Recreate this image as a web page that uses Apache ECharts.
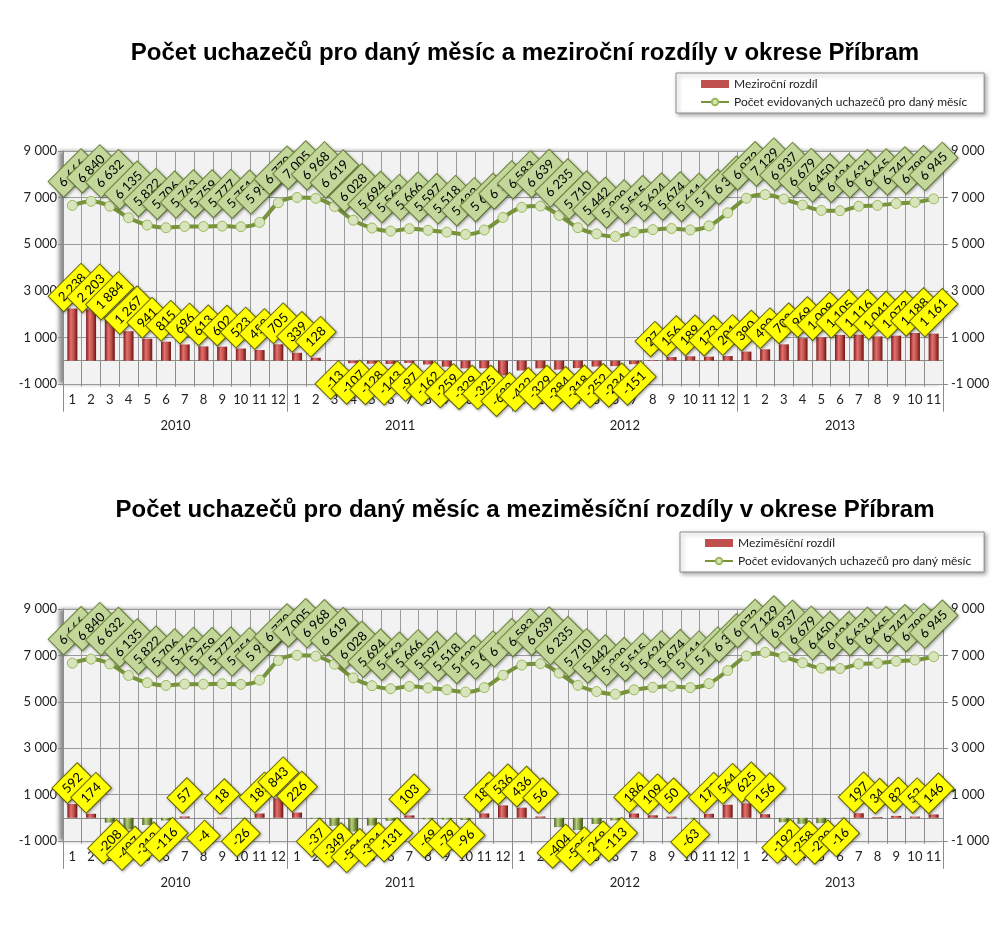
<!DOCTYPE html>
<html><head><meta charset="utf-8">
<script src="https://cdn.jsdelivr.net/npm/echarts@6/dist/echarts.min.js"></script>
<style>html,body{margin:0;padding:0;background:#fff}#c{width:1006px;height:930px}</style>
</head><body><div id="c"></div>
<script>
// ---- data ----
const monthLabels = ['1','2','3','4','5','6','7','8','9','10','11','12',
  '1','2','3','4','5','6','7','8','9','10','11','12',
  '1','2','3','4','5','6','7','8','9','10','11','12',
  '1','2','3','4','5','6','7','8','9','10','11'];
const years = ['2010','2011','2012','2013'];
const yearLengths = [12, 12, 12, 11];
const counts = [6666, 6840, 6632, 6135, 5822, 5706, 5763, 5759, 5777, 5751, 5936, 6779,
  7005, 6968, 6619, 6028, 5694, 5563, 5666, 5597, 5518, 5422, 5611, 6147,
  6583, 6639, 6235, 5710, 5442, 5329, 5515, 5624, 5674, 5611, 5784, 6348,
  6973, 7129, 6937, 6679, 6450, 6434, 6631, 6665, 6747, 6799, 6945];
const yoyDiff = [2238, 2203, 1884, 1267, 941, 815, 696, 613, 602, 523, 458, 705,
  339, 128, -13, -107, -128, -143, -97, -162, -259, -329, -325, -632,
  -422, -329, -384, -318, -252, -234, -151, 27, 156, 189, 173, 201,
  390, 490, 702, 969, 1008, 1105, 1116, 1041, 1073, 1188, 1161];
const momDiff = [592, 174, -208, -497, -313, -116, 57, -4, 18, -26, 185, 843,
  226, -37, -349, -591, -334, -131, 103, -69, -79, -96, 189, 536,
  436, 56, -404, -525, -268, -113, 186, 109, 50, -63, 173, 564,
  625, 156, -192, -258, -229, -16, 197, 34, 82, 52, 146];
const yMin = -1000, yMax = 9000, yStep = 2000;
const titles = ['Počet uchazečů pro daný měsíc a meziroční rozdíly v okrese Příbram',
  'Počet uchazečů pro daný měsíc a meziměsíční rozdíly v okrese Příbram'];
const barNames = ['Meziroční rozdíl', 'Meziměsíční rozdíl'];
const lineName = 'Počet evidovaných uchazečů pro daný měsíc';

// ---- helpers ----
function fmt(v) {
  const s = String(Math.abs(v)).replace(/\B(?=(\d{3})+(?!\d))/g, ' ');
  return (v < 0 ? '-' : '') + s;
}
const yearOfMonth = [];
const yearStarts = [];
const yearLabelIdx = {};
let acc = 0;
years.forEach((y, k) => {
  const n = yearLengths[k];
  yearStarts.push(acc);
  for (let i = 0; i < n; i++) yearOfMonth.push(y);
  if (n % 2 === 0) yearLabelIdx[acc + n / 2 - 1] = 'shift';
  else yearLabelIdx[acc + (n - 1) / 2] = 'plain';
  acc += n;
});

const FONT = 'Lato';
const gridLine = '#9a9a9a';
const axisCol = '#8c8c8c';

function grad(c0, c1, c2, c3) {
  return new echarts.graphic.LinearGradient(0, 0, 1, 0, [
    {offset: 0, color: c0}, {offset: 0.35, color: c1}, {offset: 0.65, color: c2}, {offset: 1, color: c3}]);
}
const redG = grad('#7a1a18', '#e4716d', '#c0504d', '#6a1411');
const greenG = grad('#4a5d23', '#b8d080', '#7d9a40', '#3b4a1b');

const tops = [151, 609];
const heights = [233, 232];

const option = {
  animation: false,
  title: titles.map((t, g) => ({
    text: t, left: 520, textAlign: 'center', top: g === 0 ? 36 : 493,
    textStyle: {fontFamily: 'Liberation Sans', fontWeight: 'bold', fontSize: 24, color: '#000'}
  })),
  legend: [0, 1].map(g => ({
    data: [{name: barNames[g], icon: 'rect', itemStyle: {color: '#c0504d'}}, {name: lineName}],
    orient: 'vertical', left: g === 0 ? 676 : 680, top: g === 0 ? 73 : 532,
    itemWidth: 28, itemHeight: 8, itemGap: 6, padding: g === 0 ? [5, 17, 5, 24] : [5, 13, 5, 24],
    backgroundColor: '#fff', borderColor: '#8c8c8c', borderWidth: 1,
    shadowColor: 'rgba(0,0,0,0.35)', shadowBlur: 4, shadowOffsetX: 2, shadowOffsetY: 2,
    textStyle: {fontSize: 12, fontFamily: FONT, color: '#222'}, selectedMode: false
  })),
  grid: [0, 1].map(g => ({
    left: 63, right: 63, top: tops[g], height: heights[g], show: true,
    backgroundColor: '#f2f2f2', borderWidth: 0,
    shadowColor: 'rgba(0,0,0,0.45)', shadowBlur: 4, shadowOffsetX: -4, shadowOffsetY: 0
  })),
  xAxis: [],
  yAxis: [],
  series: []
};

[0, 1].forEach(g => {
  option.xAxis.push({
    type: 'category', gridIndex: g, data: monthLabels, position: 'bottom', boundaryGap: true,
    axisLine: {show: true, lineStyle: {color: axisCol}},
    axisTick: {show: true, interval: 0, length: 26, lineStyle: {color: axisCol}},
    axisLabel: {interval: 0, margin: 9, fontSize: 13, color: '#222', fontFamily: FONT},
    splitLine: {show: true, interval: 0, lineStyle: {color: gridLine}}
  });
  option.xAxis.push({
    type: 'category', gridIndex: g, data: yearOfMonth, position: 'bottom', boundaryGap: true,
    axisLine: {show: false},
    axisTick: {show: true, interval: (i) => yearStarts.indexOf(i) >= 0, length: 51, lineStyle: {color: axisCol}},
    axisLabel: {
      interval: (i) => yearLabelIdx[i] !== undefined, margin: 35, fontSize: 13, color: '#222', fontFamily: FONT,
      formatter: (v, i) => yearLabelIdx[i] === 'shift' ? '{s|' + v + '}' : v,
      rich: {s: {padding: [0, 0, 0, 19], fontSize: 13, color: '#222', fontFamily: FONT}}
    },
    splitLine: {show: false}
  });
  ['left', 'right'].forEach(pos => {
    option.yAxis.push({
      type: 'value', gridIndex: g, position: pos, min: yMin, max: yMax, interval: yStep,
      axisLine: {show: true, lineStyle: {color: axisCol}},
      axisTick: {show: true, length: 5, lineStyle: {color: axisCol}},
      axisLabel: {formatter: fmt, fontSize: 13, color: '#222', fontFamily: FONT, margin: pos === 'left' ? 6 : 8},
      splitLine: {show: pos === 'left', lineStyle: {color: gridLine}}
    });
  });
  const diffs = g === 0 ? yoyDiff : momDiff;
  option.series.push({
    type: 'bar', name: barNames[g], xAxisIndex: g * 2, yAxisIndex: g * 2, barWidth: 10,
    data: diffs.map(v => ({
      value: v,
      itemStyle: {color: (g === 1 && v < 0) ? greenG : redG},
      label: {position: v >= 0 ? 'top' : 'bottom', distance: v >= 0 ? 21 : 19}
    })),
    label: {
      show: true, rotate: 45, align: 'center', verticalAlign: 'middle',
      formatter: p => fmt(p.value),
      backgroundColor: '#ffff00', borderColor: '#6b6b00', borderWidth: 1, padding: [4, 6],
      fontSize: 13, color: '#000', fontFamily: FONT,
      shadowColor: 'rgba(0,0,0,0.3)', shadowBlur: 3, shadowOffsetX: 1, shadowOffsetY: 1
    }
  });
  option.series.push({
    type: 'line', name: lineName, xAxisIndex: g * 2, yAxisIndex: g * 2, data: counts,
    smooth: 0.3, symbol: 'circle', symbolSize: 10,
    lineStyle: {color: '#77933c', width: 4},
    itemStyle: {color: '#d7e4bd', borderColor: '#9bbb59', borderWidth: 1},
    label: {
      show: true, position: 'top', distance: 27, rotate: 45, align: 'center', verticalAlign: 'middle',
      formatter: p => fmt(p.value),
      backgroundColor: '#c4d79b', borderColor: '#6f8a3a', borderWidth: 1, padding: [4, 6],
      fontSize: 13, color: '#000', fontFamily: FONT,
      shadowColor: 'rgba(0,0,0,0.3)', shadowBlur: 3, shadowOffsetX: 1, shadowOffsetY: 1
    },
    z: 3
  });
});

const chart = echarts.init(document.getElementById('c'), null, {renderer: 'canvas'});
chart.setOption(option);
</script>
</body></html>
